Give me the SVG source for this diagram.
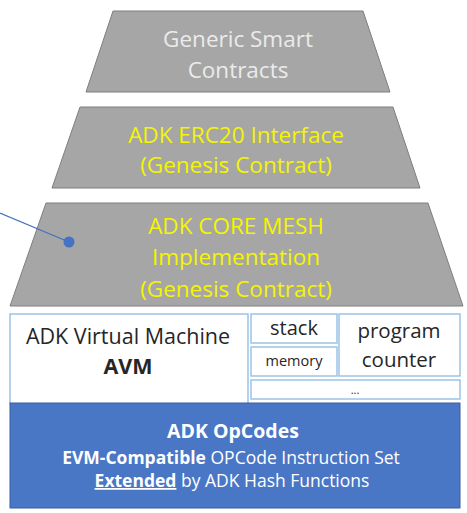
<svg xmlns="http://www.w3.org/2000/svg" width="467" height="513" viewBox="0 0 467 513">
<style>
.trap{fill:#a6a6a6;stroke:#7f7f7f;stroke-width:1}
.t{font-family:"Open Sans","Liberation Sans",sans-serif;text-anchor:middle}
.gray{fill:#ebebeb;font-size:22.5px}
.yel{fill:#f5f500;font-size:22.5px}
.box{fill:#fff;stroke:#9dc3e6;stroke-width:1.5}
.dark{fill:#262626}
.w{fill:#fff}
</style>
<rect width="467" height="513" fill="#fff"/>
<g id="generic">
<polygon class="trap" points="113,11 363,11 390,92 86,92"/>
<text class="t gray" x="238" y="47">Generic Smart</text>
<text class="t gray" x="238" y="78">Contracts</text>
</g>
<g id="erc20">
<polygon class="trap" points="80,107 393,107 420,188 52,188"/>
<text class="t yel" x="236" y="143">ADK ERC20 Interface</text>
<text class="t yel" x="236" y="173">(Genesis Contract)</text>
</g>
<g id="core">
<polygon class="trap" points="46,203 428,203 463,306 10,306"/>
<text class="t yel" x="236" y="234">ADK CORE MESH</text>
<text class="t yel" x="236" y="265">Implementation</text>
<text class="t yel" x="236" y="297">(Genesis Contract)</text>
</g>
<g id="connectors">
<line x1="0" y1="213" x2="69" y2="242" stroke="#4472c4" stroke-width="1.3"/>
<circle cx="69" cy="242" r="5.5" fill="#4472c4"/>
</g>
<g id="avm">
<rect class="box" x="10" y="314" width="238" height="90"/>
<text class="t dark" x="128" y="344" font-size="21.5">ADK Virtual Machine</text>
<text class="t dark" x="128" y="374" font-size="21.5" font-weight="bold">AVM</text>
</g>
<g id="stack">
<rect class="box" x="251" y="314" width="86" height="29"/>
<text class="t dark" x="294" y="335" font-size="20">stack</text>
</g>
<g id="memory">
<rect class="box" x="251" y="347" width="86" height="29"/>
<text class="t dark" x="294" y="366" font-size="14.5">memory</text>
</g>
<g id="pc">
<rect class="box" x="339" y="314" width="121" height="62"/>
<text class="t dark" x="399" y="338" font-size="20.5">program</text>
<text class="t dark" x="399" y="367" font-size="20.5">counter</text>
</g>
<g id="more">
<rect class="box" x="251" y="380" width="209" height="19"/>
<text class="t dark" x="355" y="394" font-size="11">...</text>
</g>
<g id="opcodes">
<rect x="10" y="403" width="450" height="105" fill="#4a76c6" stroke="#3b5fa0" stroke-width="1"/>
<text class="t w" x="233" y="438" font-size="19.5" font-weight="bold">ADK OpCodes</text>
<text class="t w" x="231" y="464" font-size="17.5"><tspan font-weight="bold">EVM-Compatible</tspan>  OPCode Instruction Set</text>
<text class="t w" x="232" y="487" font-size="17.5"><tspan font-weight="bold" text-decoration="underline">Extended</tspan>  by ADK Hash Functions</text>
</g>
</svg>
